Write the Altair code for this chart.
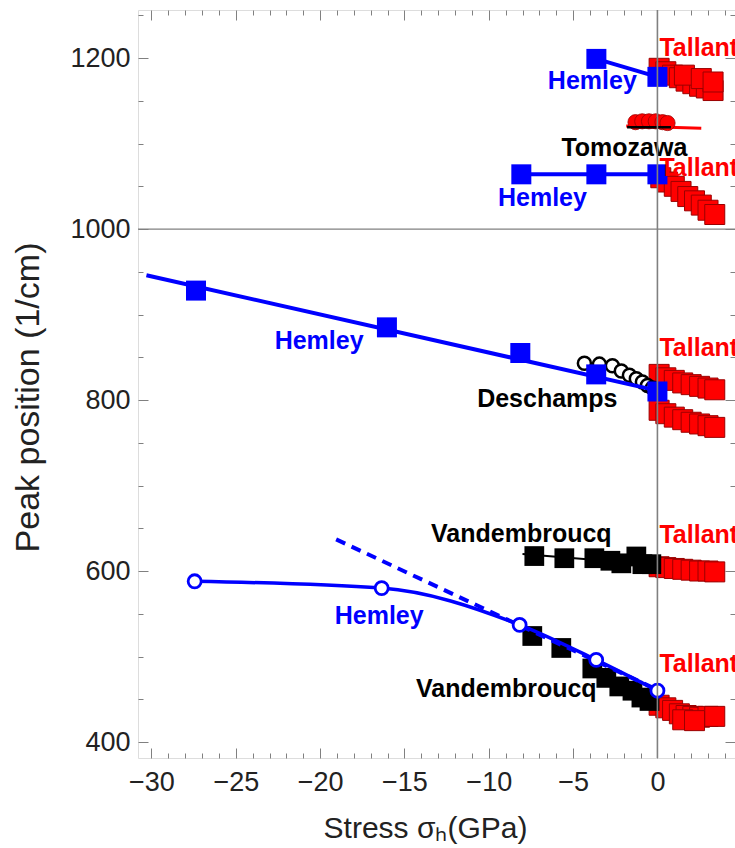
import altair as alt
import pandas as pd

# ---------------- data ----------------
# Hemley, ~1200 band
hem1_x = [-3.62, 0.0]
hem1_y = [1199, 1178]
# Hemley, ~1065 band
hem2_x = [-8.07, -3.62, 0.0]
hem2_y = [1064, 1064, 1064]
# Hemley, ~800-950 band (squares) and its straight line
hem3_x = [-27.36, -16.04, -8.13, -3.63, 0.0]
hem3_y = [928, 885, 855, 830, 810]
hem3_line_x = [-30.3, 0.0]
hem3_line_y = [946, 811]
# Hemley, ~450-600 band (open circles, smooth curve) and dashed line
hem4_x = [-27.44, -16.35, -8.17, -3.63, 0.0]
hem4_y = [588, 580, 537, 496, 460]
hem4_dash_x = [-19.05, 0.0]
hem4_dash_y = [637, 461]

# Tomozawa
tomo_pts_x = [-1.3, -0.9, -0.5, -0.1, 0.3, 0.6]
tomo_pts_y = [1125, 1126, 1126, 1126, 1125, 1124]
tomo_red_x = [-1.85, 2.6]
tomo_red_y = [1120.5, 1118]
tomo_blk_x = [-1.8, 0.8]
tomo_blk_y = [1119, 1119]

# Deschamps (open black circles)
desch_x = [-4.33, -3.44, -2.67, -2.14, -1.66, -1.25, -0.89, -0.59, -0.30]
desch_y = [843, 842, 840, 834, 829, 825, 821, 817, 814]

# Vandembroucq (black squares)
vand1_x = [-7.3, -5.52, -3.74, -2.79, -2.14, -1.25, -0.89, -0.36]
vand1_y = [617.5, 615, 615, 612, 609, 617, 608, 608]
vand1_line_x = [-8.0, 0.0]
vand1_line_y = [620, 607]
vand2_x = [-7.42, -5.7, -3.86, -3.03, -2.26, -1.48, -0.95, -0.47]
vand2_y = [524, 510, 486, 475, 465, 460, 452, 448]

# Tallant (red squares), six bands
tal1_x = [0.1, 0.5, 0.9, 1.3, 1.7, 2.1, 2.5, 2.9, 3.3, 1.6, 2.6, 3.3]
tal1_y = [1188, 1184, 1180, 1177, 1173, 1170, 1167, 1165, 1162, 1180, 1176, 1172]
tal2_x = [0.2, 0.6, 1.0, 1.4, 1.8, 2.2, 2.6, 3.0, 3.4]
tal2_y = [1060, 1055, 1050, 1044, 1038, 1033, 1028, 1022, 1017]
tal3_x = [0.1, 0.5, 1.0, 1.5, 2.0, 2.5, 3.0, 3.4]
tal3_y = [830, 826, 823, 820, 818, 816, 814, 812]
tal4_x = [0.1, 0.5, 1.0, 1.5, 2.0, 2.5, 3.0, 3.4]
tal4_y = [788, 784, 780, 777, 774, 772, 770, 768]
tal5_x = [0.1, 0.5, 1.0, 1.5, 2.0, 2.5, 3.0, 3.4]
tal5_y = [605, 604, 603, 602, 601, 600, 600, 599]
tal6_x = [0.1, 0.5, 0.9, 1.3, 1.7, 2.1, 2.5, 3.0, 3.4, 1.5, 2.2]
tal6_y = [443, 440, 437, 433, 431, 430, 429, 430, 430, 426, 425]

# annotation labels
red_lab_text = ["Tallant", "Tallant", "Tallant", "Tallant", "Tallant"]
red_lab_x = [0.12, 0.12, 0.12, 0.12, 0.12]
red_lab_y = [1212, 1071, 861, 642, 491]
blue_lab_text = ["Hemley", "Hemley", "Hemley", "Hemley"]
blue_lab_x = [-3.86, -6.82, -20.06, -16.5]
blue_lab_y = [1173, 1036, 869, 547]
black_lab_text = ["Tomozawa", "Deschamps", "Vandembroucq", "Vandembroucq"]
black_lab_x = [-1.96, -6.53, -8.07, -8.96]
black_lab_y = [1095, 801, 643, 462]

# reference lines
hline_y = [1000]
vline_x = [0]

# axes
x_domain = [-30.8, 4.6]
y_domain = [381.3, 1256.2]
x_major = [-30, -25, -20, -15, -10, -5, 0]
x_minor = [v for v in range(-30, 5) if v % 5 != 0]
y_major = [400, 600, 800, 1000, 1200]
y_minor = [v for v in range(400, 1256, 50) if v % 200 != 0]

# ---------------- chart ----------------
BLUE = "#0000FF"
RED = "#FF0000"
DRED = "#9a0000"
GRAY = "#808080"
LAB = "#222222"
FONT = "Liberation Sans"

xs = alt.Scale(domain=x_domain, nice=False, zero=False)
ys = alt.Scale(domain=y_domain, nice=False, zero=False)


def df(x, y):
    return pd.DataFrame({"x": x, "y": y})


def X(axis=None):
    return alt.X("x:Q", scale=xs, axis=axis)


def Y(axis=None):
    return alt.Y("y:Q", scale=ys, axis=axis)


def tick_axis(orient, values, size, labels=False, **kw):
    return alt.Axis(orient=orient, values=values, tickSize=size, offset=-size,
                    domain=False, grid=False, ticks=True, tickColor=GRAY,
                    tickWidth=1, labels=labels, **kw)


ax_bottom = tick_axis("bottom", x_major, 10, labels=True,
                      labelFont=FONT, labelFontSize=27, labelColor=LAB,
                      labelPadding=11, labelFlush=False, labelOverlap=False,
                      format="d",
                      title="Stress σₕ(GPa)", titleFont=FONT, titleFontSize=30,
                      titleFontWeight="normal", titleColor=LAB,
                      titleX=287, titleY=80, titleAlign="center",
                      titleBaseline="middle")
ax_left = tick_axis("left", y_major, 10, labels=True,
                    labelFont=FONT, labelFontSize=27, labelColor=LAB,
                    labelPadding=8, labelFlush=False, labelOverlap=False,
                    format="d",
                    title="Peak position (1/cm)", titleFont=FONT,
                    titleFontSize=34, titleFontWeight="normal",
                    titleColor=LAB, titleAngle=270, titleX=-120, titleY=387,
                    titleAlign="center", titleBaseline="middle")
ax_bottom_minor = tick_axis("bottom", x_minor, 5, title=None)
ax_left_minor = tick_axis("left", y_minor, 5, title=None)
ax_top = tick_axis("top", x_major, 10, title=None)
ax_top_minor = tick_axis("top", x_minor, 5, title=None)
ax_right = tick_axis("right", y_major, 10, title=None)
ax_right_minor = tick_axis("right", y_minor, 5, title=None)

carrier = df(hem3_x, hem3_y)
axis_layers = [
    alt.Chart(carrier).mark_point(opacity=0).encode(x=X(ax_bottom), y=Y(ax_left)),
    alt.Chart(carrier).mark_point(opacity=0).encode(x=X(ax_bottom_minor), y=Y(ax_left_minor)),
    alt.Chart(carrier).mark_point(opacity=0).encode(x=X(ax_top), y=Y(ax_right)),
    alt.Chart(carrier).mark_point(opacity=0).encode(x=X(ax_top_minor), y=Y(ax_right_minor)),
]

hline = alt.Chart(pd.DataFrame({"y": hline_y})).mark_rule(
    color=GRAY, strokeWidth=1.3).encode(y=Y())
vline = alt.Chart(pd.DataFrame({"x": vline_x})).mark_rule(
    color=GRAY, strokeWidth=1.6).encode(x=X())


def red_squares(x, y):
    return alt.Chart(df(x, y)).mark_point(
        shape="square", filled=True, fill=RED, stroke=DRED, strokeWidth=1,
        size=400, opacity=1).encode(x=X(), y=Y())


def black_squares(x, y):
    return alt.Chart(df(x, y)).mark_point(
        shape="square", filled=True, color="black", size=390,
        opacity=1).encode(x=X(), y=Y())


def blue_squares(x, y):
    return alt.Chart(df(x, y)).mark_point(
        shape="square", filled=True, color=BLUE, size=400,
        opacity=1).encode(x=X(), y=Y())


def line(x, y, color, width, dash=None, interp="linear"):
    kw = dict(color=color, strokeWidth=width, interpolate=interp)
    if dash:
        kw["strokeDash"] = dash
    return alt.Chart(df(x, y)).mark_line(**kw).encode(
        x=X(), y=Y(), order="x:Q")


tallant = [red_squares(a, b) for a, b in [
    (tal1_x, tal1_y), (tal2_x, tal2_y), (tal3_x, tal3_y), (tal4_x, tal4_y),
    (tal5_x, tal5_y), (tal6_x, tal6_y)]]

vand_line = line(vand1_line_x, vand1_line_y, "black", 2)
vand1 = black_squares(vand1_x, vand1_y)
vand2 = black_squares(vand2_x, vand2_y)

desch_line = line(desch_x, desch_y, "black", 1.5)
desch = alt.Chart(df(desch_x, desch_y)).mark_point(
    shape="circle", filled=True, fill="white", stroke="black",
    strokeWidth=2.5, size=170, opacity=1).encode(x=X(), y=Y())

tomo_red = line(tomo_red_x, tomo_red_y, RED, 3)
tomo_pts = alt.Chart(df(tomo_pts_x, tomo_pts_y)).mark_point(
    shape="circle", filled=True, fill=RED, stroke=DRED, strokeWidth=0.8,
    size=230, opacity=1).encode(x=X(), y=Y())
tomo_blk = line(tomo_blk_x, tomo_blk_y, "black", 2.5)

hem_lines = [
    line(hem1_x, hem1_y, BLUE, 4),
    line(hem2_x, hem2_y, BLUE, 4),
    line(hem3_line_x, hem3_line_y, BLUE, 4),
    line(hem4_x, hem4_y, BLUE, 3.5, interp="monotone"),
    line(hem4_dash_x, hem4_dash_y, BLUE, 4, dash=[10, 7]),
]
hem_marks = [
    blue_squares(hem1_x, hem1_y),
    blue_squares(hem2_x, hem2_y),
    blue_squares(hem3_x, hem3_y),
    alt.Chart(df(hem4_x, hem4_y)).mark_point(
        shape="circle", filled=True, fill="white", stroke=BLUE,
        strokeWidth=2.8, size=170, opacity=1).encode(x=X(), y=Y()),
]


def labels(text, x, y, color, align):
    d = pd.DataFrame({"x": x, "y": y, "t": text})
    return alt.Chart(d).mark_text(
        font=FONT, fontSize=25, fontWeight="bold", color=color, align=align,
        baseline="middle", clip=True).encode(x=X(), y=Y(), text="t:N")


texts = [
    labels(red_lab_text, red_lab_x, red_lab_y, RED, "left"),
    labels(blue_lab_text, blue_lab_x, blue_lab_y, BLUE, "center"),
    labels(black_lab_text, black_lab_x, black_lab_y, "black", "center"),
]

layers = (axis_layers + [hline] + tallant + [vand_line, vand1, vand2,
          desch_line, desch, tomo_red, tomo_pts, tomo_blk] + hem_lines
          + hem_marks + texts + [vline])

chart = alt.layer(*layers).resolve_axis(
    x="independent", y="independent"
).properties(
    width=597, height=748,
    autosize=alt.AutoSizeParams(type="none"),
    padding={"left": 138, "top": 10, "right": 0, "bottom": 90},
).configure_view(stroke=GRAY, strokeWidth=1.3).configure(background="white")

chart.save("out.html", embed_options={"renderer": "svg", "actions": False})
